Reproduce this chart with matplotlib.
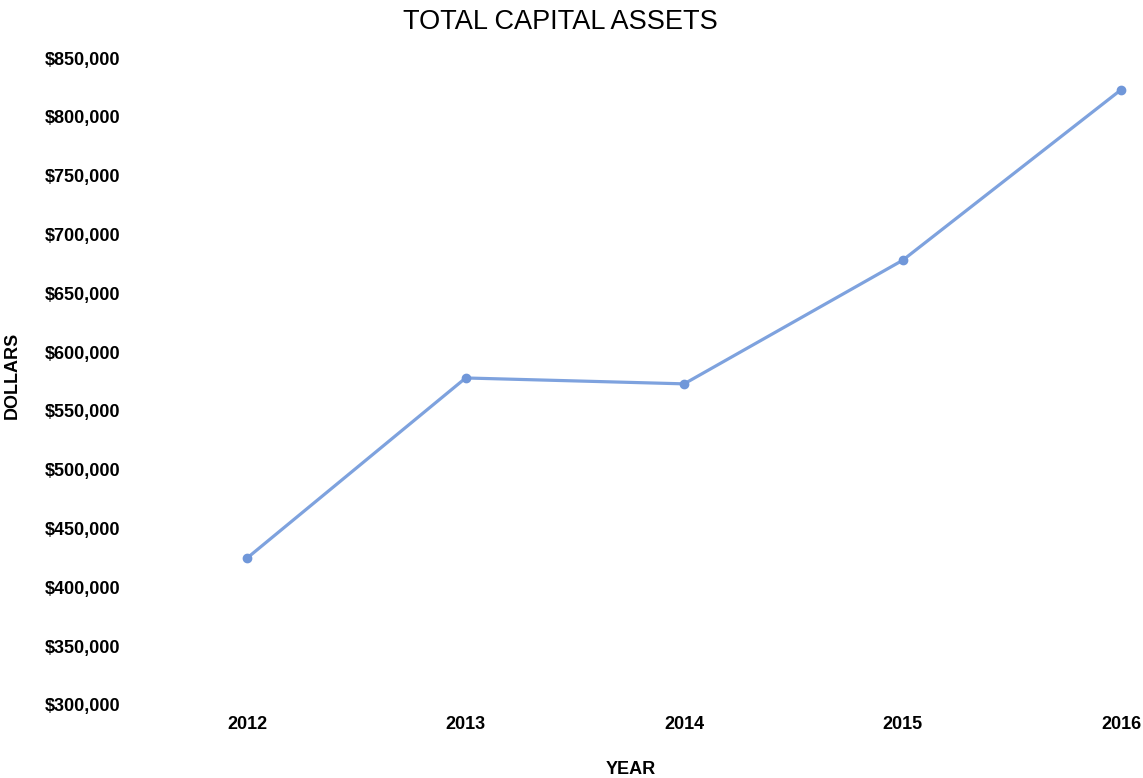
import matplotlib
matplotlib.use("Agg")
import matplotlib.pyplot as plt
from matplotlib.ticker import FuncFormatter

years = [2012, 2013, 2014, 2015, 2016]
assets = [425000, 578000, 573000, 678000, 823000]
y_ticks = list(range(300000, 850001, 50000))

plt.rcParams["font.family"] = ["Liberation Sans", "DejaVu Sans"]

fig = plt.figure(figsize=(11.43, 7.78), dpi=100)
ax = fig.add_axes([138 / 1143, 73 / 778, 997 / 1143, 647 / 778])

ax.plot(years, assets, color="#7ea2de", linewidth=2.3,
        marker="o", markersize=6, markerfacecolor="#7097d9",
        markeredgecolor="#7097d9")

ax.set_xlim(2011.5, 2016.064)
ax.set_ylim(300000, 850000)
ax.set_xticks(years)
ax.set_yticks(y_ticks)
ax.yaxis.set_major_formatter(FuncFormatter(lambda v, _: "${:,.0f}".format(v)))

for s in ax.spines.values():
    s.set_visible(False)
ax.tick_params(length=0, labelsize=13)
ax.tick_params(axis="y", pad=13)
ax.tick_params(axis="x", pad=8)
for lbl in ax.get_xticklabels() + ax.get_yticklabels():
    lbl.set_fontweight("bold")

ax.set_ylabel("DOLLARS", fontsize=13, fontweight="bold")
ax.yaxis.set_label_coords(-0.118, 0.51)
ax.set_xlabel("YEAR", fontsize=13, fontweight="bold")
ax.xaxis.set_label_coords(0.494, -0.087)

fig.text(560 / 1143, 1 - 22 / 778, "TOTAL CAPITAL ASSETS",
         ha="center", va="center", fontsize=19.5)

fig.savefig("out.png", dpi=100)
